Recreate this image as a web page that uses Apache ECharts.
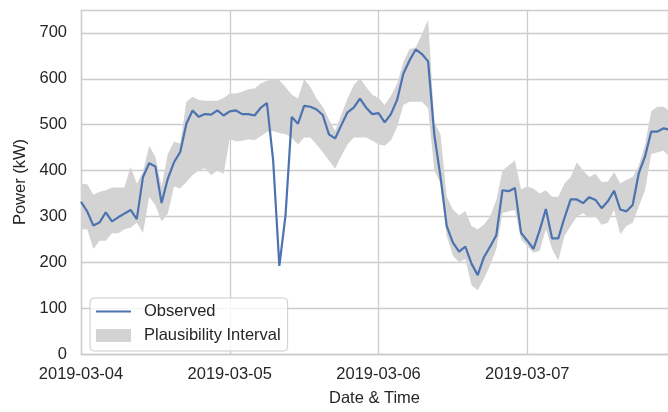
<!DOCTYPE html>
<html>
<head>
<meta charset="utf-8">
<script src="https://cdn.jsdelivr.net/npm/echarts@6/dist/echarts.min.js"></script>
<style>
  html, body { margin: 0; padding: 0; background: #fff; }
  #chart { width: 668px; height: 412px; }
</style>
</head>
<body>
<div id="chart"></div>
<script>
// hourly samples starting 2019-03-04 00:00
const dayLabels = ["2019-03-04", "2019-03-05", "2019-03-06", "2019-03-07"];

const observed = [
  332, 311, 280, 287, 309, 289, 298, 306, 314, 294, 386, 416, 409, 329, 382, 418,
  440, 502, 531, 517, 523, 522, 531, 520, 529, 531, 523, 523, 520, 537, 547, 422,
  192, 303, 517, 502, 541, 539, 533, 521, 479, 470, 499, 527, 537, 557, 537, 523,
  525, 505, 523, 554, 611, 640, 664, 654, 638, 478, 386, 279, 243, 223, 234, 197,
  172, 211, 234, 259, 357, 355, 362, 264, 247, 229, 270, 316, 252, 252, 297, 337,
  337, 329, 342, 336, 318, 333, 356, 315, 311, 325, 395, 431, 485, 485, 492, 489
];

const upper = [
  372, 370, 347, 354, 357, 363, 363, 363, 408, 372, 397, 454, 430, 365, 436, 463,
  459, 550, 561, 554, 552, 552, 552, 558, 568, 568, 572, 577, 579, 590, 596, 600,
  597, 582, 565, 557, 599, 582, 557, 539, 511, 486, 522, 557, 586, 601, 582, 565,
  558, 543, 563, 590, 636, 665, 668, 697, 729, 506, 479, 343, 315, 302, 312, 279,
  272, 282, 300, 336, 400, 411, 422, 359, 365, 361, 350, 357, 343, 343, 372, 386,
  418, 400, 386, 393, 375, 376, 397, 372, 380, 386, 411, 457, 529, 539, 539, 529
];

const lower = [
  272, 272, 229, 247, 247, 263, 263, 272, 275, 286, 264, 343, 325, 289, 306, 365,
  361, 375, 390, 400, 405, 390, 400, 393, 468, 464, 465, 468, 466, 475, 484, 486,
  482, 479, 472, 457, 472, 472, 457, 440, 422, 404, 432, 457, 472, 472, 472, 465,
  457, 454, 466, 495, 543, 550, 550, 550, 536, 400, 372, 257, 214, 200, 207, 150,
  139, 164, 193, 229, 307, 311, 314, 250, 235, 221, 225, 272, 229, 204, 257, 279,
  300, 307, 297, 300, 282, 286, 314, 261, 279, 286, 322, 357, 436, 440, 443, 429
];

const textColor = "#262626";
const gridColor = "#cccccc";
const bandColor = "#d3d3d3";
const lineColor = "#4c72b0";
const font = "Liberation Sans, Arial, sans-serif";

// band polygon: upper edge left->right, lower edge right->left
function renderBand(params, api) {
  if (params.dataIndex !== 0) return null;
  const pts = [];
  for (let i = 0; i < upper.length; i++) pts.push(api.coord([i, upper[i]]));
  for (let i = lower.length - 1; i >= 0; i--) pts.push(api.coord([i, lower[i]]));
  return {
    type: "polygon",
    shape: { points: pts },
    style: { fill: bandColor, stroke: null }
  };
}

const chart = echarts.init(document.getElementById("chart"));
chart.setOption({
  animation: false,
  backgroundColor: "#fff",
  textStyle: { fontFamily: font, color: textColor },
  grid: { left: 81, right: 0, top: 10, bottom: 52 },
  legend: {
    orient: "vertical",
    left: 90,
    top: 298,
    padding: [5, 7, 7, 6],
    itemGap: 7,
    itemWidth: 35,
    itemHeight: 13,
    backgroundColor: "rgba(255,255,255,0.8)",
    borderColor: gridColor,
    borderWidth: 1,
    borderRadius: 4,
    textStyle: { fontSize: 16.5, color: textColor, fontFamily: font, padding: [0, 0, 0, 8] },
    data: [
      { name: "Observed", icon: "path://M0,0h35v2.2h-35z" },
      { name: "Plausibility Interval", icon: "rect" }
    ]
  },
  xAxis: {
    type: "value",
    min: 0,
    max: 94.7,
    interval: 24,
    name: "Date & Time",
    nameLocation: "middle",
    nameGap: 36,
    nameTextStyle: { fontSize: 16.5, color: textColor },
    axisLine: { show: true, lineStyle: { color: gridColor, width: 1.3 } },
    axisTick: { show: false },
    axisLabel: {
      margin: 12,
      fontSize: 16.5,
      color: textColor,
      showMaxLabel: false,
      formatter: v => dayLabels[Math.round(v / 24)] || ""
    },
    splitLine: { show: true, lineStyle: { color: gridColor, width: 1.3 } }
  },
  yAxis: {
    type: "value",
    min: 0,
    max: 750,
    interval: 100,
    name: "Power (kW)",
    nameLocation: "middle",
    nameGap: 50,
    nameTextStyle: { fontSize: 16.5, color: textColor },
    axisLine: { show: true, lineStyle: { color: gridColor, width: 1.3 } },
    axisTick: { show: false },
    axisLabel: { margin: 14, fontSize: 16.5, color: textColor, showMaxLabel: false },
    splitLine: { show: true, lineStyle: { color: gridColor, width: 1.3 } }
  },
  series: [
    {
      name: "Plausibility Interval",
      type: "custom",
      silent: true,
      color: bandColor,
      itemStyle: { color: bandColor },
      renderItem: renderBand,
      encode: { x: 0, y: 1 },
      data: upper.map((v, i) => [i, v])
    },
    {
      name: "Observed",
      type: "line",
      symbol: "none",
      color: lineColor,
      itemStyle: { color: lineColor },
      lineStyle: { color: lineColor, width: 2.2 },
      data: observed.map((v, i) => [i, v])
    }
  ]
});
</script>
</body>
</html>
